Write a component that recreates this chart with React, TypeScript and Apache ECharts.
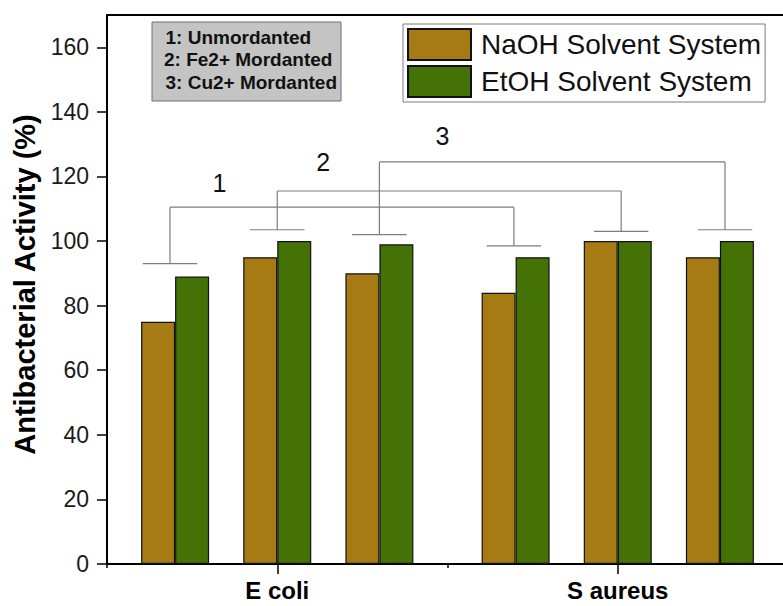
import React, { useEffect, useRef } from 'react';
import * as echarts from 'echarts';

// Bar groups: three treatments per organism, placed on a linear x scale
const groupPositions = [0.4, 1, 1.6, 2.4, 3, 3.6];
const naohActivity = [75, 95, 90, 84, 100, 95];
const etohActivity = [89, 100, 99, 95, 100, 100];

// Axis ticks and labels
const organismTicks = [1, 3];
const organismNames = ['E coli', 'S aureus'];
const boundaryTicks = [0, 2, 4];
const activityTicks = [0, 20, 40, 60, 80, 100, 120, 140, 160];

// Comparison brackets: one cap above each bar pair, linked pairwise (1, 2, 3)
const capCenters = [0.37, 1.0, 1.6, 2.39, 3.02, 3.63];
const capLevels = [93, 103.5, 102, 98.5, 103, 103.5];
const linkLevels = [110.5, 115.5, 124.5];
const linkLabels = ['1', '2', '3'];
const linkLabelX = [0.66, 1.27, 1.97];
const linkLabelY = [118, 124.5, 132.5];

const mordantNotes = ['1: Unmordanted', '2: Fe2+ Mordanted', '3: Cu2+ Mordanted'];

const FONT = '"Liberation Sans", Arial, Helvetica, sans-serif';
const BROWN = '#a67b14';
const GREEN = '#447207';

export default function App() {
  const ref = useRef<HTMLDivElement>(null);

  useEffect(() => {
    if (!ref.current) return;
    const chart = echarts.init(ref.current, undefined, { renderer: 'svg' });

    const pairData = (vals: number[]) => groupPositions.map((x, i) => [x, vals[i]]);

    const option: any = {
      animation: false,
      backgroundColor: '#ffffff',
      grid: {
        left: 107,
        top: 15,
        right: 12,
        bottom: 42,
      },
      legend: {
        data: ['NaOH Solvent System', 'EtOH Solvent System'],
        orient: 'vertical',
        left: 403,
        top: 24,
        padding: [4, 4, 4, 4],
        itemGap: 4,
        itemWidth: 63,
        itemHeight: 31,
        icon: 'rect',
        borderColor: '#7a7a7a',
        borderWidth: 1,
        backgroundColor: '#fff',
        textStyle: {
          fontFamily: FONT,
          fontSize: 28,
          color: '#111',
          padding: [0, 0, 0, 5],
        },
      },
      xAxis: [
        {
          type: 'value',
          min: 0,
          max: 4,
          position: 'bottom',
          axisLine: { show: true, lineStyle: { color: '#000', width: 2 } },
          axisTick: { show: true, length: 4, customValues: boundaryTicks, lineStyle: { color: '#000', width: 1.5 } },
          axisLabel: { show: false },
          splitLine: { show: false },
        },
        {
          type: 'value',
          min: 0,
          max: 4,
          position: 'bottom',
          axisLine: { show: false },
          axisTick: { show: true, length: 10, customValues: organismTicks, lineStyle: { color: '#000', width: 1.5 } },
          axisLabel: {
            show: true,
            customValues: organismTicks,
            margin: 14,
            fontFamily: FONT,
            fontSize: 24,
            fontWeight: 'bold',
            color: '#000',
            formatter: (v: number) => organismNames[organismTicks.indexOf(v)] ?? '',
          },
          splitLine: { show: false },
        },
        {
          // top frame line
          type: 'value',
          min: 0,
          max: 4,
          position: 'top',
          axisLine: { show: true, lineStyle: { color: '#000', width: 2 } },
          axisTick: { show: false },
          axisLabel: { show: false },
          splitLine: { show: false },
        },
      ],
      yAxis: {
        type: 'value',
        min: 0,
        max: 170,
        interval: 20,
        name: 'Antibacterial Activity (%)',
        nameLocation: 'middle',
        nameGap: 64,
        nameTextStyle: { fontFamily: FONT, fontSize: 29, fontWeight: 'bold', color: '#000', padding: [0, 0, 0, 10] },
        axisLine: { show: true, lineStyle: { color: '#000', width: 2 } },
        axisTick: { show: true, length: 10, customValues: activityTicks, lineStyle: { color: '#000', width: 1.5 } },
        axisLabel: {
          show: true,
          margin: 18,
          fontFamily: FONT,
          fontSize: 23,
          color: '#1a1a1a',
          formatter: (v: number) => (activityTicks.includes(v) ? String(v) : ''),
        },
        splitLine: { show: false },
      },
      graphic: [
        {
          type: 'rect',
          shape: { x: 152, y: 22, width: 189, height: 79 },
          style: { fill: '#c4c4c4', stroke: '#6e6e6e', lineWidth: 1 },
          z: 10,
        },
        ...mordantNotes.map((t, i) => ({
          type: 'text',
          x: i === 1 ? 164 : 165.5,
          y: [37.5, 59.5, 82.5][i],
          style: {
            text: t,
            font: `bold 19px ${FONT}`,
            fill: '#111',
            align: 'left',
            verticalAlign: 'middle',
          },
          z: 11,
        })),
      ],
      series: [
        {
          name: 'NaOH Solvent System',
          type: 'bar',
          xAxisIndex: 0,
          data: pairData(naohActivity),
          barWidth: 34,
          barGap: '0%',
          itemStyle: { color: BROWN, borderColor: '#111', borderWidth: 1.2 },
        },
        {
          name: 'EtOH Solvent System',
          type: 'bar',
          xAxisIndex: 0,
          data: pairData(etohActivity),
          barWidth: 34,
          barGap: '0%',
          itemStyle: { color: GREEN, borderColor: '#111', borderWidth: 1.2 },
        },
        {
          type: 'custom',
          xAxisIndex: 0,
          silent: true,
          z: 5,
          data: linkLevels.map((lvl, i) => [linkLabelX[i], lvl]),
          renderItem: (params: any, api: any) => {
            const i = params.dataIndex;
            const half = 0.16;
            const pt = (x: number, y: number) => api.coord([x, y]);
            const stroke = { stroke: '#7d7d7d', lineWidth: 1.2 };
            const seg = (p: number[], q: number[]) => ({
              type: 'line',
              shape: { x1: p[0], y1: p[1], x2: q[0], y2: q[1] },
              style: stroke,
            });
            const children: any[] = [];
            [i, i + 3].forEach((k) => {
              children.push(seg(pt(capCenters[k] - half, capLevels[k]), pt(capCenters[k] + half, capLevels[k])));
              children.push(seg(pt(capCenters[k], capLevels[k]), pt(capCenters[k], linkLevels[i])));
            });
            children.push(seg(pt(capCenters[i], linkLevels[i]), pt(capCenters[i + 3], linkLevels[i])));
            const lp = pt(linkLabelX[i], linkLabelY[i]);
            children.push({
              type: 'text',
              x: lp[0],
              y: lp[1],
              style: {
                text: linkLabels[i],
                font: `25px ${FONT}`,
                fill: '#111',
                align: 'center',
                verticalAlign: 'middle',
              },
            });
            return { type: 'group', children };
          },
        },
      ],
    };

    chart.setOption(option);
    return () => chart.dispose();
  }, []);

  // The plot frame runs slightly past the right edge of the visible area
  return (
    <div style={{ position: 'absolute', left: 0, top: 0, width: 783, height: 606, overflow: 'hidden', background: '#fff' }}>
      <div ref={ref} style={{ width: 800, height: 606 }} />
    </div>
  );
}
